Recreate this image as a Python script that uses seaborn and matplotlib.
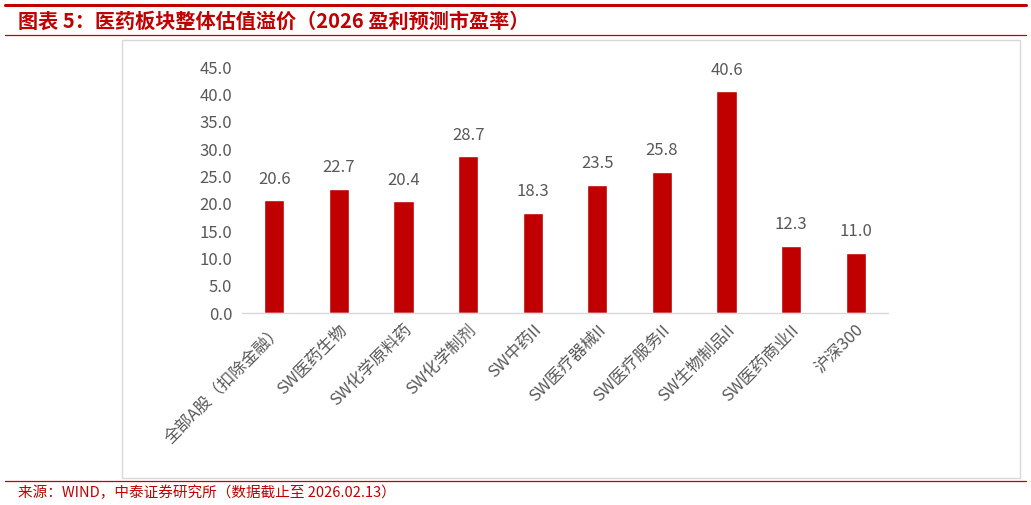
import matplotlib
matplotlib.use("Agg")
import matplotlib.pyplot as plt
import seaborn as sns
import pandas as pd
from matplotlib.lines import Line2D
from matplotlib.patches import Rectangle

categories = ["全部A股（扣除金融）", "SW医药生物", "SW化学原料药", "SW化学制剂", "SW中药II",
              "SW医疗器械II", "SW医疗服务II", "SW生物制品II", "SW医药商业II", "沪深300"]
values = [20.6, 22.7, 20.4, 28.7, 18.3, 23.5, 25.8, 40.6, 12.3, 11.0]
yticks = [0, 5, 10, 15, 20, 25, 30, 35, 40, 45]

title = "图表 5：医药板块整体估值溢价（2026 盈利预测市盈率）"
source = "来源：WIND，中泰证券研究所（数据截止至 2026.02.13）"

sns.set_theme(style="white")
plt.rcParams['font.family'] = ['Noto Sans CJK SC', 'DejaVu Sans']

RED = "#C00000"
GRAY = "#595959"

fig = plt.figure(figsize=(10.31, 5.05), dpi=100)

# frame lines
fig.add_artist(Line2D([0.005, 0.995], [1 - 5/505, 1 - 5/505], color=RED, lw=2.2, transform=fig.transFigure))
fig.add_artist(Line2D([0.005, 0.995], [1 - 35/505, 1 - 35/505], color=RED, lw=0.9, transform=fig.transFigure))
fig.add_artist(Line2D([0.005, 0.995], [1 - 481/505, 1 - 481/505], color=RED, lw=0.9, transform=fig.transFigure))
fig.add_artist(Rectangle((122/1031, 1 - 478/505), (1020 - 122)/1031, (478 - 40)/505,
                         fill=False, edgecolor="#D9D9D9", lw=1.0, transform=fig.transFigure))

fig.text(18/1031, 1 - 21/505, title, color=RED, fontsize=14.5, fontweight='bold',
         va='center', ha='left', fontstyle='italic')
fig.text(18/1031, 1 - 493/505, source, color=RED, fontsize=10.5, va='center', ha='left')

ax = fig.add_axes([242/1031, 1 - 313/505, (888 - 242)/1031, (313 - 67)/505])
df = pd.DataFrame({"cat": categories, "val": values})
sns.barplot(data=df, x="cat", y="val", color=RED, saturation=1, width=0.31, ax=ax)
ax.set_xlim(-0.5, 9.5)
ax.set_ylim(0, 45)
ax.set_yticks(yticks)
ax.set_yticklabels([f"{v:.1f}" for v in yticks], color=GRAY, fontsize=12)
ax.set_xlabel("")
ax.set_ylabel("")
ax.set_xticks(range(len(categories)))
ax.set_xticklabels(categories, rotation=45, ha='right', rotation_mode='anchor',
                   color=GRAY, fontsize=12)
ax.tick_params(axis='y', length=0, pad=7)
ax.tick_params(axis='x', length=0, pad=6)
for s in ["top", "right", "left"]:
    ax.spines[s].set_visible(False)
ax.spines["bottom"].set_color("#D9D9D9")
ax.spines["bottom"].set_linewidth(1.0)
for i, v in enumerate(values):
    ax.annotate(f"{v:.1f}", (i, v), xytext=(0, 9), textcoords="offset points",
                ha='center', va='bottom', color=GRAY, fontsize=12)
ax.set_facecolor("none")

fig.savefig("out.png", dpi=100)
